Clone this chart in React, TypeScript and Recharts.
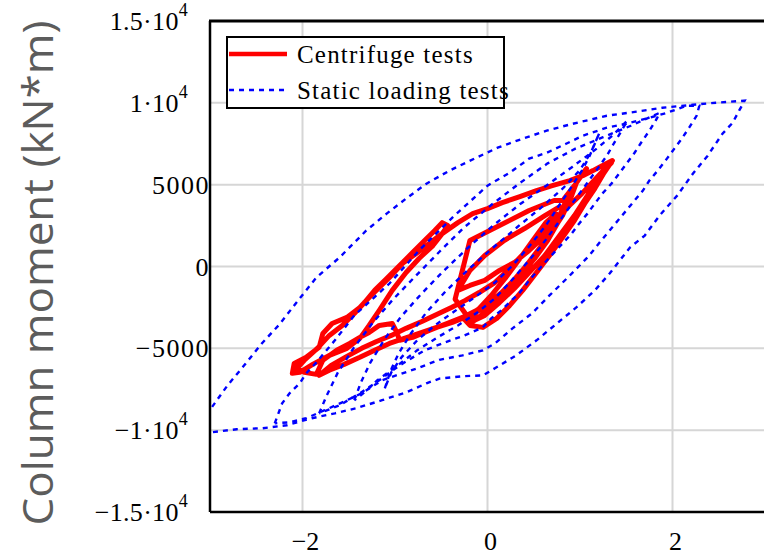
import React from 'react';
import { LineChart, Line, XAxis, YAxis, CartesianGrid, Legend } from 'recharts';

// axis ticks
const xTicks = [-2, 0, 2];
const xTickText = ['\u22122', '0', '2'];
const yTicks = [-15000, -10000, -5000, 0, 5000, 10000, 15000];
const yTickText = ['\u22121.5\u00b710', '\u22121\u00b710', '\u22125000', '0', '5000', '1\u00b710', '1.5\u00b710'];
const yTickExp = ['4', '4', '', '', '', '4', '4'];

// centrifuge test record (rotation, moment)
const centrifuge: [number, number][] = [
  [-0.27, -3110], [-0.19, -3600], [-0.05, -3720], [0.10, -3170], [0.24, -2380], [0.38, -1460],
  [0.53, -370], [0.67, 670], [0.81, 1770], [0.94, 2810], [1.05, 3840], [1.16, 4760], [1.26, 5730],
  [1.35, 6470], [1.24, 6160], [1.14, 5860], [1.03, 5550], [0.89, 5250], [0.70, 4940], [0.53, 4640],
  [0.35, 4270], [0.16, 3900], [0.00, 3540], [-0.16, 3230], [-0.32, 2680], [-0.49, 2010], [-0.63, 1400],
  [-0.77, 790], [-0.92, 180], [-1.06, -670], [-1.17, -1280], [-1.28, -1890], [-1.38, -2500],
  [-1.52, -3110], [-1.68, -3480], [-1.78, -4090], [-1.82, -4940], [-1.96, -5550], [-2.09, -5920],
  [-2.11, -6530], [-2.03, -6470], [-1.89, -5980], [-1.71, -5430], [-1.52, -5000], [-1.38, -4390],
  [-1.28, -3600], [-1.17, -2680], [-1.03, -1460], [-0.88, -370], [-0.74, 490], [-0.59, 1280],
  [-0.49, 2010], [-0.43, 2500], [-0.49, 2680], [-0.57, 2200], [-0.68, 1590], [-0.81, 850],
  [-0.95, 60], [-1.09, -730], [-1.22, -1460], [-1.33, -2200], [-1.44, -2870], [-1.57, -3600],
  [-1.71, -4210], [-1.84, -5000], [-1.98, -5730], [-2.06, -6220], [-1.98, -6470], [-1.85, -6590],
  [-1.78, -5730], [-1.63, -5120], [-1.49, -4700], [-1.38, -4330], [-1.28, -4030], [-1.17, -3600],
  [-1.03, -3480], [-0.98, -4030], [-0.95, -4510], [-0.81, -4330], [-0.63, -3900], [-0.44, -3480],
  [-0.27, -3110], [-0.12, -2680], [0.02, -2200], [0.18, -1460], [0.35, -550], [0.51, 490],
  [0.65, 1590], [0.76, 2680], [0.85, 3720], [0.83, 4150], [0.94, 4940], [1.07, 5980], [0.97, 5250],
  [0.91, 4330], [0.81, 3110], [0.69, 2070], [0.56, 1100], [0.42, 60], [0.26, -980], [0.11, -1830],
  [-0.05, -2560], [-0.22, -3050], [-0.38, -3420], [-0.55, -3720], [-0.74, -4090], [-0.90, -4390],
  [-1.06, -4700], [-1.22, -5120], [-1.38, -5550], [-1.55, -5980], [-1.71, -6340], [-1.82, -6650],
  [-1.69, -6040], [-1.52, -5490], [-1.36, -5000], [-1.20, -4580], [-1.04, -4210], [-0.88, -3780],
  [-0.71, -3360], [-0.55, -2930], [-0.39, -2500], [-0.24, -2070], [-0.09, -1590], [0.08, -980],
  [0.24, -120], [0.40, 850], [0.56, 1890], [0.72, 2810], [0.86, 3600], [1.02, 4450], [1.17, 5370],
  [1.30, 6160], [1.34, 6340], [1.21, 5550], [1.08, 4330], [0.94, 3110], [0.78, 1890], [0.62, 670],
  [0.45, -370], [0.29, -1340], [0.13, -2200], [-0.03, -2990], [-0.19, -3420], [-0.11, -2680],
  [0.04, -1770], [0.19, -730], [0.35, 490], [0.49, 1590], [0.63, 2680], [0.74, 3230], [0.70, 2320],
  [0.59, 1160], [0.45, 60], [0.29, -1040], [0.13, -1950], [-0.03, -2810], [-0.17, -3420],
  [-0.35, -2000], [-0.19, 1590], [0.13, 2500], [0.45, 3420], [0.72, 4030], [0.85, 4030], [0.78, 3110],
  [0.62, 1890], [0.45, 980], [0.29, 240], [0.13, -240], [-0.03, -850], [-0.19, -1160], [-0.32, -1460],
  [-0.19, -240], [-0.03, 670], [0.18, 1590], [0.40, 2320], [0.62, 3110], [0.80, 3720],
];

// static loading test cycles, largest first
const staticCycle1: [number, number][] = [
  [-3.15, -10130], [-2.98, -8600], [-2.81, -7260], [-2.63, -6040], [-2.44, -4700], [-2.25, -3540],
  [-2.09, -2380], [-1.85, -670], [-1.60, 550], [-1.31, 2200], [-1.09, 3230], [-0.88, 4150],
  [-0.66, 5060], [-0.41, 5860], [-0.12, 6650], [0.11, 7260], [0.38, 7810], [0.64, 8300], [0.92, 8720],
  [1.29, 9210], [1.61, 9460], [1.89, 9700], [2.22, 9880], [2.50, 10020], [2.78, 10130],
  [2.72, 9520], [2.65, 8780], [2.54, 8110], [2.38, 6770], [2.22, 5670], [2.05, 4330], [1.86, 3110],
  [1.70, 1890], [1.54, 1160], [1.32, -430], [1.16, -1460], [0.96, -2500], [0.75, -3480],
  [0.53, -4510], [0.31, -5430], [0.08, -6220], [-0.05, -6650], [-0.25, -6700], [-0.52, -6850],
  [-0.66, -7140], [-0.88, -7690], [-1.14, -8170], [-1.42, -8660], [-1.65, -8970], [-1.90, -9270],
  [-2.17, -9700], [-2.43, -9880], [-2.71, -9940], [-2.98, -10130], [-3.15, -10130],
];
const staticCycle2: [number, number][] = [
  [-2.30, -9580], [-2.22, -8360], [-2.14, -7750], [-2.03, -7140], [-1.96, -6530], [-1.85, -5860],
  [-1.65, -4510], [-1.44, -2990], [-1.06, -1040], [-0.74, 980], [-0.38, 2990], [0.00, 4940],
  [0.24, 5730], [0.45, 6590], [0.64, 6950], [0.85, 7500], [1.03, 7990], [1.29, 8480], [1.50, 8720],
  [1.75, 9090], [1.94, 9390], [2.15, 9820], [2.29, 9820],
  [2.26, 9210], [2.18, 8480], [2.10, 7810], [2.02, 7200], [1.94, 6590], [1.84, 5860], [1.75, 5250],
  [1.68, 4640], [1.59, 4030], [1.50, 3420], [1.41, 2810], [1.32, 2200], [1.23, 1590], [1.10, 670],
  [0.89, -550], [0.67, -1770], [0.48, -2870], [0.27, -3780], [0.08, -4700], [-0.05, -5120],
  [-0.27, -5430], [-0.52, -5700], [-0.76, -6220], [-1.14, -6950], [-1.36, -7750], [-1.57, -8300],
  [-1.76, -8780], [-1.96, -9270], [-2.14, -9520], [-2.30, -9580],
];
const staticCycle3: [number, number][] = [
  [-1.82, -8970], [-1.74, -7900], [-1.62, -6500], [-1.45, -5000], [-1.25, -3500], [-1.02, -2000],
  [-0.78, -600], [-0.52, 900], [-0.25, 2400], [0.05, 3800], [0.35, 5100], [0.65, 6300], [0.95, 7200],
  [1.25, 7900], [1.55, 8600], [1.86, 9390],
  [1.83, 9030], [1.75, 8300], [1.66, 7560], [1.59, 6950], [1.51, 6340], [1.43, 5730], [1.34, 5060],
  [1.24, 4450], [1.16, 3840], [1.08, 3230], [0.99, 2620], [0.91, 2010], [0.81, 1400], [0.62, 240],
  [0.45, -850], [0.35, -1590], [0.26, -2070], [0.15, -2680], [0.04, -3170], [-0.05, -3720],
  [-0.25, -4210], [-0.46, -4640], [-0.68, -5120], [-0.95, -6040], [-1.17, -6950], [-1.38, -7750],
  [-1.60, -8480], [-1.82, -8970],
];
const staticCycle4: [number, number][] = [
  [-1.44, -8170], [-1.37, -7100], [-1.27, -5900], [-1.12, -4500], [-0.94, -3100], [-0.72, -1700],
  [-0.48, -300], [-0.22, 1100], [0.06, 2500], [0.35, 3800], [0.65, 5000], [0.92, 6100], [1.18, 7200],
  [1.35, 8000], [1.51, 8910],
  [1.45, 8300], [1.37, 7560], [1.29, 6770], [1.19, 5980], [1.08, 5120], [0.97, 4270], [0.86, 3420],
  [0.72, 2320], [0.56, 1100], [0.40, 60], [0.24, -980], [0.08, -1950], [-0.11, -2810], [-0.32, -3600],
  [-0.54, -4330], [-0.76, -5120], [-0.97, -6040], [-1.19, -6950], [-1.33, -7690], [-1.44, -8170],
];
const staticCycle5: [number, number][] = [
  [-1.11, -7440], [-1.05, -6400], [-0.96, -5300], [-0.83, -4100], [-0.66, -2800], [-0.45, -1500],
  [-0.21, -200], [0.05, 1100], [0.32, 2400], [0.58, 3600], [0.82, 4800], [1.00, 5900], [1.12, 7000],
  [1.21, 8170],
  [1.16, 7500], [1.10, 6710], [1.02, 5860], [0.91, 4880], [0.78, 3780], [0.63, 2500], [0.45, 1220],
  [0.27, 60], [0.08, -980], [-0.14, -1890], [-0.36, -2750], [-0.57, -3600], [-0.76, -4510],
  [-0.93, -5550], [-1.04, -6470], [-1.11, -7440],
];

const staticCycles = [staticCycle1, staticCycle2, staticCycle3, staticCycle4, staticCycle5];

const toPoints = (arr: [number, number][]) => arr.map(([x, y]) => ({ x, y }));

const serif = '"Liberation Serif", "Times New Roman", serif';

const XTick = (props: any) => {
  const i = xTicks.indexOf(props.payload.value);
  return (
    <text x={props.x + 3} y={550} textAnchor="middle" fontFamily={serif} fontSize={26} fill="#000">
      {xTickText[i]}
    </text>
  );
};

const YTick = (props: any) => {
  const i = yTicks.indexOf(props.payload.value);
  const exp = yTickExp[i];
  const isTop = i === yTicks.length - 1;
  return (
    <g>
      {/* top edge of the plot frame */}
      {isTop && <rect x={209} y={props.y - 1.5} width={561} height={3} fill="#000" />}
      <text
        x={exp ? 188 : 210}
        y={props.y + 9}
        textAnchor="end"
        fontFamily={serif}
        fontSize={26}
        letterSpacing={exp ? 0.3 : 1.5}
        fill="#000"
      >
        {yTickText[i]}
        {exp && (
          <tspan dy={-14} fontSize={18}>
            {exp}
          </tspan>
        )}
      </text>
    </g>
  );
};

const YLabel = () => (
  <text
    x={53}
    y={273}
    transform="rotate(-90 53 273)"
    textAnchor="middle"
    fontFamily='"Open Sans", sans-serif'
    fontSize={42}
    fill="#5c5c5c"
    textLength={505}
    lengthAdjust="spacingAndGlyphs"
  >
    Column moment (kN*m)
  </text>
);

const LegendBox = () => (
  <div
    style={{
      boxSizing: 'border-box',
      width: 279,
      height: 73,
      border: '2px solid #000',
      background: '#fff',
    }}
  >
    <svg width={275} height={69} style={{ overflow: 'visible', display: 'block' }}>
      <line x1={1} x2={59} y1={16} y2={16} stroke="#ff0000" strokeWidth={4.5} />
      <text x={69} y={25} fontFamily={serif} fontSize={25} letterSpacing={1.2} fill="#000">
        Centrifuge tests
      </text>
      <line x1={1} x2={59} y1={52} y2={52} stroke="#0000ff" strokeWidth={2.4} strokeDasharray="5 5" />
      <text x={69} y={61} fontFamily={serif} fontSize={25} letterSpacing={1.2} fill="#000">
        Static loading tests
      </text>
    </svg>
  </div>
);

export default function App() {
  return (
    <div
      style={{
        position: 'absolute',
        left: 0,
        top: 0,
        width: 764,
        height: 555,
        overflow: 'hidden',
        background: '#fff',
      }}
    >
      <LineChart width={770} height={555} margin={{ top: 21, right: 5, left: 0, bottom: 0 }}>
        <CartesianGrid stroke="#d6d6d6" strokeWidth={2} />
        <XAxis
          dataKey="x"
          type="number"
          domain={[-3, 3]}
          ticks={xTicks}
          interval={0}
          allowDataOverflow
          height={43}
          tickLine={false}
          axisLine={{ stroke: '#000', strokeWidth: 2.5 }}
          tick={<XTick />}
        />
        <YAxis
          dataKey="y"
          type="number"
          domain={[-15000, 15000]}
          ticks={yTicks}
          interval={0}
          allowDataOverflow
          width={210}
          tickLine={false}
          axisLine={{ stroke: '#000', strokeWidth: 2.5 }}
          tick={<YTick />}
          label={() => <YLabel />}
        />
        <Line
          data={toPoints(centrifuge)}
          dataKey="y"
          type="linear"
          stroke="#ff0000"
          strokeWidth={5}
          strokeLinejoin="round"
          dot={false}
          isAnimationActive={false}
        />
        {staticCycles.map((cycle, i) => (
          <Line
            key={i}
            data={toPoints(cycle)}
            dataKey="y"
            type="linear"
            stroke="#0000ff"
            strokeWidth={2.4}
            strokeDasharray="5 5"
            dot={false}
            isAnimationActive={false}
          />
        ))}
        <Legend
          layout="vertical"
          align="center"
          verticalAlign="middle"
          wrapperStyle={{ left: 226, top: 36, width: 279, height: 73 }}
          content={() => <LegendBox />}
        />
      </LineChart>
    </div>
  );
}
